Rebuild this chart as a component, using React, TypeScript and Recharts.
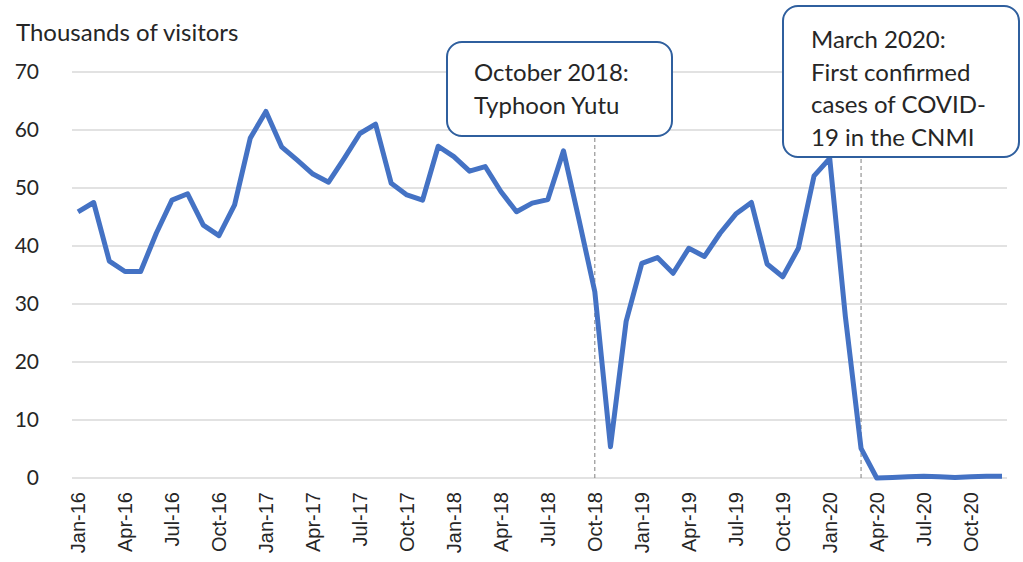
import React from 'react';
import { CartesianGrid, Line, LineChart, ReferenceLine, XAxis, YAxis } from 'recharts';

const MONTHS = ['Jan', 'Feb', 'Mar', 'Apr', 'May', 'Jun', 'Jul', 'Aug', 'Sep', 'Oct', 'Nov', 'Dec'];
const YEARS = ['16', '17', '18', '19', '20'];

// thousands of visitors per month, Jan-16 .. Dec-20
const VISITORS = [
    45.9, 47.5, 37.4, 35.6, 35.6, 42.2, 47.9, 49.0, 43.6, 41.8, 47.1, 58.6,
    63.2, 57.1, 54.8, 52.4, 51.0, 55.1, 59.4, 61.0, 50.8, 48.8, 47.9, 57.2,
    55.4, 52.9, 53.7, 49.4, 45.9, 47.4, 48.0, 56.4, 44.4, 32.1, 5.4, 27.0,
    37.0, 38.0, 35.3, 39.6, 38.2, 42.2, 45.5, 47.5, 36.9, 34.7, 39.6, 52.1,
    55.1, 27.8, 5.1, 0.0, 0.1, 0.2, 0.3, 0.2, 0.1, 0.2, 0.3, 0.3,
];

const Y_TICKS = [0, 10, 20, 30, 40, 50, 60, 70];

const EVENTS = [
    { month: 'Oct-18', top: 58.8, lines: ['October 2018:', 'Typhoon Yutu'] },
    { month: 'Mar-20', top: 55.2, lines: ['March 2020:', 'First confirmed', 'cases of COVID-', '19 in the CNMI'] },
];

const LABELS = YEARS.flatMap((y) => MONTHS.map((m) => `${m}-${y}`));
const data = LABELS.map((name, i) => ({ name, visitors: VISITORS[i] }));

const TEXT = '#262626';

const MonthTick = ({ x, y, payload }: any) => (
    <g transform={`translate(${x},${y + 14})`}>
        <text
            transform='rotate(-90)'
            textAnchor='end'
            dy='0.36em'
            fontFamily='"Liberation Sans", Arial, sans-serif'
            fontSize={20}
            fill={TEXT}
        >
            {payload.value}
        </text>
    </g>
);

const boxStyle: React.CSSProperties = {
    position: 'absolute',
    boxSizing: 'border-box',
    background: '#fff',
    border: '2px solid #2F5F9E',
    borderRadius: 16,
    fontFamily: 'Lato, sans-serif',
    fontSize: 24,
    color: TEXT,
    lineHeight: '32.5px',
};

export default function App() {
    return (
        <div style={{ position: 'fixed', top: 0, left: 0, width: 1023, height: 562, background: '#fff' }}>
            <LineChart width={1023} height={562} data={data} margin={{ top: 72, right: 16, bottom: 0, left: 0 }}>
                <CartesianGrid vertical={false} stroke='#d9d9d9' strokeWidth={1.5} />
                <XAxis
                    dataKey='name'
                    interval={2}
                    height={84}
                    tickSize={0}
                    tickMargin={0}
                    axisLine={false}
                    tickLine={false}
                    padding={{ left: 6, right: 5 }}
                    tick={<MonthTick />}
                />
                <YAxis
                    domain={[0, 70]}
                    ticks={Y_TICKS}
                    width={72}
                    tickSize={0}
                    tickMargin={33}
                    axisLine={false}
                    tickLine={false}
                    tick={{ fontFamily: 'Lato, sans-serif', fontSize: 21, fill: TEXT }}
                />
                {EVENTS.map((e) => (
                    <ReferenceLine
                        key={e.month}
                        segment={[
                            { x: e.month, y: 0 },
                            { x: e.month, y: e.top },
                        ]}
                        stroke='#7f7f7f'
                        strokeDasharray='4 3'
                        strokeWidth={1}
                    />
                ))}
                <Line
                    type='linear'
                    dataKey='visitors'
                    stroke='#4472C4'
                    strokeWidth={5}
                    strokeLinejoin='round'
                    dot={false}
                    isAnimationActive={false}
                />
            </LineChart>
            <div
                style={{
                    position: 'absolute',
                    left: 16,
                    top: 16,
                    fontFamily: 'Lato, sans-serif',
                    fontSize: 24,
                    color: TEXT,
                    lineHeight: '32px',
                }}
            >
                Thousands of visitors
            </div>
            <div style={{ ...boxStyle, left: 446, top: 41, width: 227, height: 96, padding: '13px 0 0 26px' }}>
                {EVENTS[0].lines.map((l) => (
                    <div key={l}>{l}</div>
                ))}
            </div>
            <div style={{ ...boxStyle, left: 782, top: 5, width: 238, height: 153, padding: '16px 0 0 27px' }}>
                {EVENTS[1].lines.map((l) => (
                    <div key={l}>{l}</div>
                ))}
            </div>
        </div>
    );
}
